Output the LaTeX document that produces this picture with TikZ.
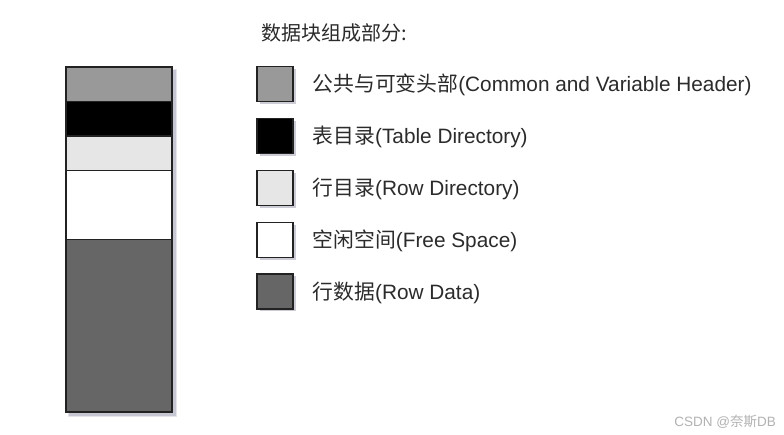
\documentclass[tikz,border=0pt]{standalone}
\usepackage{fontspec}
\setmainfont{Liberation Sans}
\newfontfamily\cjk{Noto Sans CJK SC}
\usetikzlibrary{shadows}
\definecolor{txt}{HTML}{2B2B2B}
\definecolor{edge}{HTML}{222222}
\definecolor{shd}{HTML}{9A9AB0}
\definecolor{cHdr}{HTML}{999999}
\definecolor{cTab}{HTML}{000000}
\definecolor{cRow}{HTML}{E6E6E6}
\definecolor{cFree}{HTML}{FFFFFF}
\definecolor{cData}{HTML}{666666}
\begin{document}
\begin{tikzpicture}[x=1pt,y=-1pt,
  seg/.style={draw=edge, line width=1.6pt, minimum width=106pt, anchor=north west, inner sep=0pt, outer sep=0pt},
  key/.style={draw=edge, line width=1.6pt, minimum width=36pt, minimum height=35pt, inner sep=0pt,
    drop shadow={shadow xshift=2.5pt, shadow yshift=-2.5pt, fill=shd, opacity=0.5}},
  lbl/.style={anchor=base west, inner sep=0pt, text=txt, font=\fontsize{20.8}{24}\selectfont},
  ttl/.style={anchor=base west, inner sep=0pt, text=txt, font=\fontsize{20}{24}\selectfont}
]
\useasboundingbox (0,0) rectangle (784,435);
\fill[white] (0,0) rectangle (784,435);
% column shadow
\fill[shd, opacity=0.25] (68,69) rectangle (176.5,417);
\fill[shd, opacity=0.40] (69,70) rectangle (175.5,416);
% column segments
\node[seg, fill=cHdr, minimum height=34.5pt] (hdr) at (66,67) {};
\node[seg, fill=cTab, minimum height=34.5pt] (tab) at (hdr.south west) {};
\node[seg, fill=cRow, minimum height=34.5pt] (row) at (tab.south west) {};
\node[seg, fill=cFree, minimum height=69pt] (free) at (row.south west) {};
\node[seg, fill=cData, minimum height=172.5pt] (data) at (free.south west) {};
% title
\node[ttl] (title) at (261.5,40.5) {{\cjk 数据块组成部分:}};
% legend
\node[key, fill=cHdr] (k1) at (275,84) {};
\node[key, fill=cTab] (k2) at (275,136) {};
\node[key, fill=cRow] (k3) at (275,188) {};
\node[key, fill=cFree] (k4) at (275,240) {};
\node[key, fill=cData] (k5) at (275,291.5) {};
\node[lbl] (l1) at (312.5,91.8) {{\cjk 公共与可变头部}(Common and Variable Header)};
\node[lbl] (l2) at (312.5,143.8) {{\cjk 表目录}(Table Directory)};
\node[lbl] (l3) at (312.5,195.8) {{\cjk 行目录}(Row Directory)};
\node[lbl] (l4) at (312.5,247.8) {{\cjk 空闲空间}(Free Space)};
\node[lbl] (l5) at (312.5,299.3) {{\cjk 行数据}(Row Data)};
% watermark
\node[anchor=base east, inner sep=0pt, text=black!30, font=\fontsize{13.5}{15}\selectfont] (wm) at (776,426) {CSDN @{\cjk 奈斯}DB};
\end{tikzpicture}
\end{document}
